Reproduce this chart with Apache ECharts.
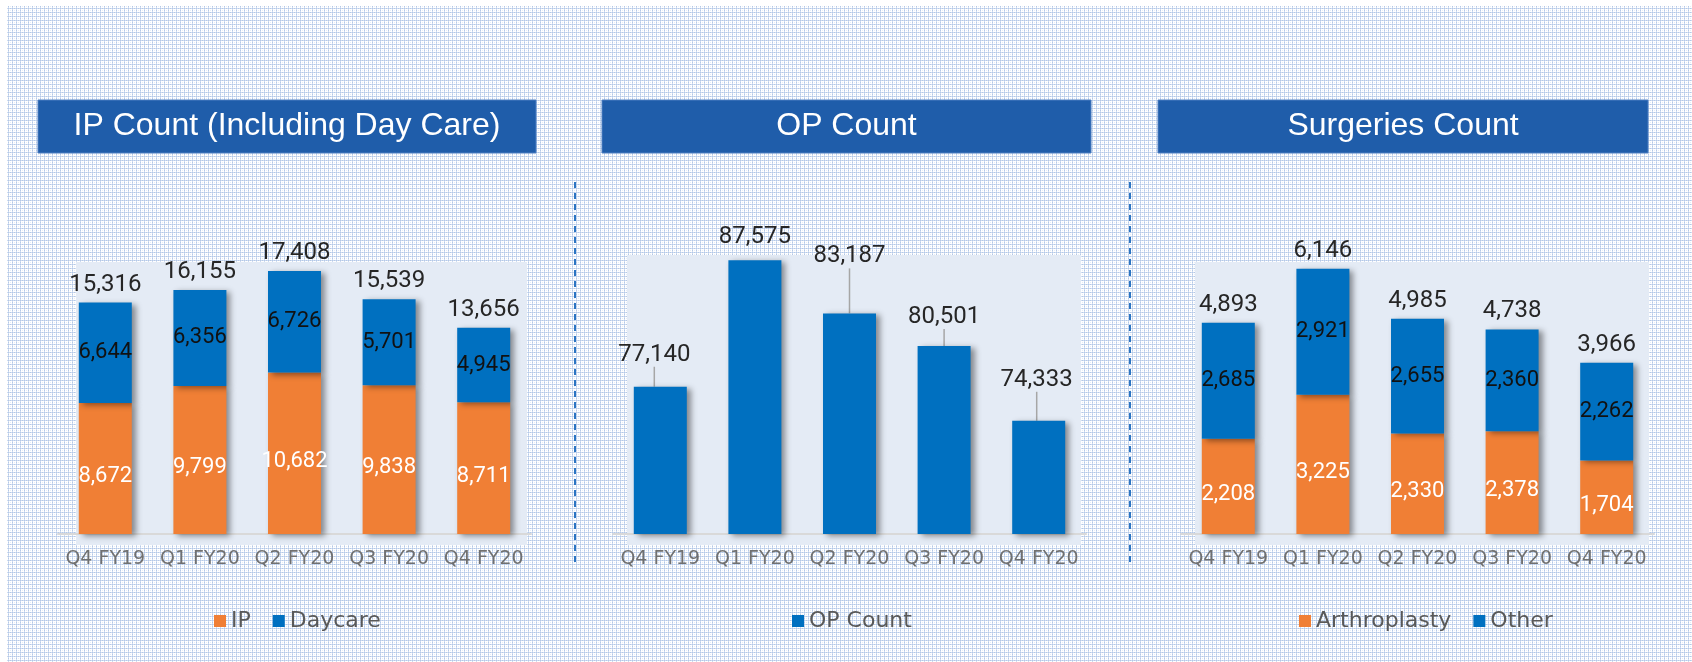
<!DOCTYPE html>
<html>
<head>
<meta charset="utf-8">
<script src="https://cdn.jsdelivr.net/npm/echarts@6/dist/echarts.min.js"></script>
<style>
html,body{margin:0;padding:0;background:#ffffff;}
#main{width:1692px;height:662px;}
</style>
</head>
<body>
<div id="main"></div>
<script>
// ---------- DATA ----------
const categories = ['Q4 FY19', 'Q1 FY20', 'Q2 FY20', 'Q3 FY20', 'Q4 FY20'];
const ipValues = [8672, 9799, 10682, 9838, 8711];
const daycareValues = [6644, 6356, 6726, 5701, 4945];
const opValues = [77140, 87575, 83187, 80501, 74333];
const arthroplastyValues = [2208, 3225, 2330, 2378, 1704];
const otherValues = [2685, 2921, 2655, 2360, 2262];
const panelTitles = ['IP Count (Including Day Care)', 'OP Count', 'Surgeries Count'];

// ---------- STYLE ----------
const ORANGE = '#F07F35';
const BLUE = '#0070C0';
const TITLE_BG = '#1F5DAA';
const PLOT_BG = '#E4EBF5';
const opLabelShift = [[-6, -15], [0, -6], [0, -40], [0, -12], [-2, -24]];
const opLeader = [true, false, true, true, true];

const ipTotals = ipValues.map((v, i) => v + daycareValues[i]);
const surgTotals = arthroplastyValues.map((v, i) => v + otherValues[i]);

// background pattern tile
const pc = document.createElement('canvas');
pc.width = 4; pc.height = 4;
const g = pc.getContext('2d');
g.fillStyle = '#ffffff'; g.fillRect(0, 0, 4, 4);
g.fillStyle = '#b3c8e7';
g.fillRect(0, 0, 1, 1); g.fillRect(2, 0, 1, 1); g.fillRect(0, 2, 1, 1);
g.fillStyle = '#cfdcf0';
g.fillRect(1, 0, 1, 1); g.fillRect(3, 0, 1, 1); g.fillRect(0, 1, 1, 1); g.fillRect(0, 3, 1, 1);
g.fillStyle = '#e6edf7';
g.fillRect(2, 2, 1, 1);

const chart = echarts.init(document.getElementById('main'), null, {renderer: 'canvas'});

const grids = [
  {left: 58, top: 262, width: 473, height: 272},
  {left: 613, top: 255, width: 473, height: 279},
  {left: 1181, top: 262, width: 473, height: 272}
];
const plotBgs = [
  {x: 76, y: 262, width: 451, height: 283},
  {x: 627, y: 255, width: 454, height: 290},
  {x: 1195, y: 262, width: 454, height: 283}
];
const titleBoxes = [
  {x: 38, y: 100, width: 498, height: 53},
  {x: 602, y: 100, width: 489, height: 53},
  {x: 1158, y: 100, width: 490, height: 53}
];

const shadow = {shadowColor: 'rgba(0,0,0,0.42)', shadowBlur: 6, shadowOffsetX: 4, shadowOffsetY: 2};
const BAR_W = 53;

function xAxis(i) {
  return {
    gridIndex: i, type: 'category', data: categories,
    axisLine: {show: true, lineStyle: {color: '#d9d9d9', width: 2}},
    axisTick: {show: false},
    axisLabel: {interval: 0, color: '#707070', fontFamily: '"DejaVu Sans"', fontSize: 19, margin: 16}
  };
}
function yAxis(i, min, max) {
  return {gridIndex: i, type: 'value', min: min, max: max, show: false, splitLine: {show: false}};
}
const fmt = p => Number(p.value).toLocaleString('en-US');

const graphic = [];
graphic.push({type: 'rect', z: -5, shape: {x: 7, y: 6, width: 1692 - 7, height: 662 - 6},
  style: {fill: {image: pc, repeat: 'repeat'}}, silent: true});
plotBgs.forEach(b => graphic.push({type: 'rect', z: -4, shape: b, style: {fill: PLOT_BG}, silent: true}));
titleBoxes.forEach((b, i) => {
  graphic.push({type: 'rect', z: -3, shape: b, style: {fill: TITLE_BG, stroke: '#4d7fc2', lineWidth: 1}, silent: true});
  graphic.push({type: 'text', z: -2, x: b.x + b.width / 2, y: b.y + b.height / 2,
    style: {text: panelTitles[i], fill: '#ffffff', font: '32px "Liberation Sans", Arial, sans-serif',
      align: 'center', verticalAlign: 'middle'}, silent: true});
});
[575, 1130].forEach(x => graphic.push({type: 'line', z: -3, shape: {x1: x, y1: 182, x2: x, y2: 562},
  style: {stroke: '#2a74c2', lineWidth: 2, lineDash: [6, 5]}, silent: true}));

const totalLabel = {show: true, position: 'top', distance: 6, color: '#262626', fontFamily: 'Roboto', fontSize: 24, formatter: fmt};
const inLabelDark = {show: true, position: 'inside', color: '#111111', fontFamily: 'Roboto', fontSize: 22, formatter: fmt};
const inLabelLight = {show: true, position: 'inside', color: '#ffffff', fontFamily: 'Roboto', fontSize: 22, formatter: fmt, offset: [0, 8]};

const legendText = {color: '#595959', fontFamily: '"DejaVu Sans"', fontSize: 22};

const option = {
  animation: false,
  backgroundColor: '#ffffff',
  graphic: graphic,
  grid: grids,
  xAxis: [xAxis(0), xAxis(1), xAxis(2)],
  yAxis: [yAxis(0, 0, 18000), yAxis(1, 65000, 88000), yAxis(2, 0, 6300)],
  legend: [
    {data: ['IP', 'Daycare'], left: 214, top: 610, padding: 0, itemWidth: 12, itemHeight: 12, itemGap: 22, icon: 'rect', textStyle: legendText, selectedMode: false},
    {data: ['OP Count'], left: 792, top: 610, padding: 0, itemWidth: 12, itemHeight: 12, icon: 'rect', textStyle: legendText, selectedMode: false},
    {data: ['Arthroplasty', 'Other'], left: 1299, top: 610, padding: 0, itemWidth: 12, itemHeight: 12, itemGap: 22, icon: 'rect', textStyle: legendText, selectedMode: false}
  ],
  series: [
    {name: 'IP', type: 'bar', xAxisIndex: 0, yAxisIndex: 0, stack: 'ip', barWidth: BAR_W, data: ipValues,
      itemStyle: Object.assign({color: ORANGE}, shadow), label: inLabelLight},
    {name: 'Daycare', type: 'bar', xAxisIndex: 0, yAxisIndex: 0, stack: 'ip', barWidth: BAR_W, data: daycareValues,
      itemStyle: Object.assign({color: BLUE}, shadow), label: inLabelDark},
    {name: 'IP Total', type: 'bar', xAxisIndex: 0, yAxisIndex: 0, barWidth: BAR_W, barGap: '-100%', data: ipTotals, z: 1, silent: true,
      itemStyle: {color: 'rgba(0,0,0,0)'}, label: totalLabel},

    {name: 'OP Count', type: 'bar', xAxisIndex: 1, yAxisIndex: 1, barWidth: BAR_W,
      data: opValues.map((v, i) => ({value: v, labelLine: {show: opLeader[i]}})),
      itemStyle: Object.assign({color: BLUE}, shadow),
      label: {show: true, position: 'top', distance: 5, color: '#262626', fontFamily: 'Roboto', fontSize: 24, formatter: fmt},
      labelLayout: p => ({dx: opLabelShift[p.dataIndex][0], dy: opLabelShift[p.dataIndex][1]}),
      labelLine: {show: true, lineStyle: {color: '#a6a6a6', width: 1.5}}},

    {name: 'Arthroplasty', type: 'bar', xAxisIndex: 2, yAxisIndex: 2, stack: 'sg', barWidth: BAR_W, data: arthroplastyValues,
      itemStyle: Object.assign({color: ORANGE}, shadow), label: inLabelLight},
    {name: 'Other', type: 'bar', xAxisIndex: 2, yAxisIndex: 2, stack: 'sg', barWidth: BAR_W, data: otherValues,
      itemStyle: Object.assign({color: BLUE}, shadow), label: inLabelDark},
    {name: 'Surgeries Total', type: 'bar', xAxisIndex: 2, yAxisIndex: 2, barWidth: BAR_W, barGap: '-100%', data: surgTotals, z: 1, silent: true,
      itemStyle: {color: 'rgba(0,0,0,0)'}, label: totalLabel}
  ]
};
chart.setOption(option);
</script>
</body>
</html>
